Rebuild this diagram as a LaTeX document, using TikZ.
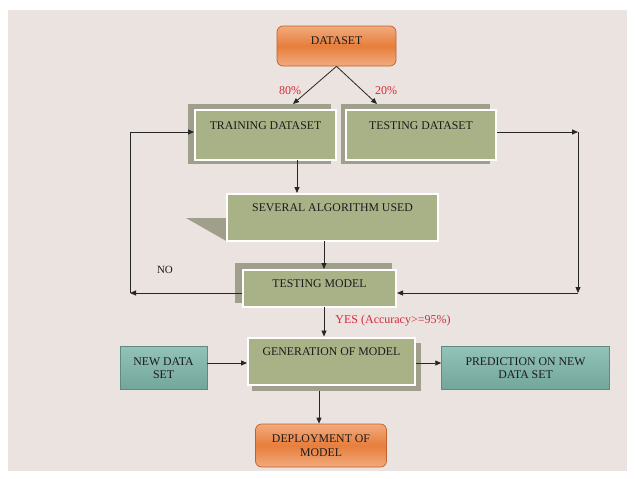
\documentclass[tikz,border=0pt]{standalone}
\usepackage{fontspec}
\setmainfont{Liberation Serif}
\usetikzlibrary{calc,arrows.meta}
\definecolor{bgc}{HTML}{EAE3E0}
\definecolor{boxgreen}{HTML}{A9B287}
\definecolor{shadowc}{HTML}{A09F8C}
\definecolor{tealtop}{HTML}{92C2B8}
\definecolor{tealbot}{HTML}{73A69B}
\definecolor{tealedge}{HTML}{5E8A80}
\definecolor{orgmid}{HTML}{E77E3C}
\definecolor{orgedge}{HTML}{F2AA7E}
\definecolor{orgline}{HTML}{C0632A}
\definecolor{redtxt}{HTML}{D8283A}
\definecolor{txt}{HTML}{1A1A1A}
\tikzset{
  boxfont/.style={font=\fontsize{11.8}{13.5}\selectfont, text=txt},
  greenbox/.style={boxfont, fill=boxgreen, draw=white, line width=2pt, inner sep=0pt, align=center},
  shadowbox/.style={fill=shadowc, draw=none, inner sep=0pt},
  tealbox/.style={boxfont, top color=tealtop, bottom color=tealbot, draw=tealedge, line width=0.5pt, inner sep=0pt, align=center},
  orangebox/.style={boxfont, rounded corners=6pt, top color=orgedge, bottom color=orgedge, middle color=orgmid, draw=orgline, line width=0.7pt, inner sep=0pt, align=center},
  arr/.style={-{Triangle[length=6pt,width=5pt]}, line width=0.8pt, draw=black!85},
  plain/.style={line width=0.8pt, draw=black!85},
  redlbl/.style={font=\fontsize{12}{14}\selectfont, text=redtxt, inner sep=0pt},
  blklbl/.style={font=\fontsize{11}{13}\selectfont, text=txt, inner sep=0pt}
}
\begin{document}
\begin{tikzpicture}[x=1pt,y=-1pt]
\useasboundingbox (0,0) rectangle (635,479);
\fill[white] (0,0) rectangle (635,479);
\fill[bgc] (8,10) rectangle (627,471);

% shadows
\node[shadowbox, minimum width=143pt, minimum height=60pt] (trainsh) at (259.5,134) {};
\node[shadowbox, minimum width=149pt, minimum height=60pt] (testsh) at (415.5,134) {};
\fill[shadowc] (186,218) -- (228,218) -- (228,242) -- cycle;
\node[shadowbox, minimum width=157pt, minimum height=40pt] (tmsh) at (313.5,283) {};
\node[shadowbox, minimum width=169pt, minimum height=48pt] (gensh) at (336.5,367) {};

% main boxes
\node[orangebox, minimum width=119pt, minimum height=40pt, text height=18pt, text depth=22pt] (dataset) at (336.5,46) {DATASET};
\node[greenbox, minimum width=141pt, minimum height=50pt, text height=19pt, text depth=31pt] (train) at (265.5,135) {TRAINING DATASET};
\node[greenbox, minimum width=150pt, minimum height=50pt, text height=19pt, text depth=31pt] (testds) at (421,135) {TESTING DATASET};
\node[greenbox, minimum width=211pt, minimum height=47pt, text height=17pt, text depth=30pt] (several) at (332.5,217.5) {SEVERAL ALGORITHM USED};
\node[greenbox, minimum width=153pt, minimum height=37pt, text height=17pt, text depth=20pt] (testmodel) at (319.5,288.5) {TESTING MODEL};
\node[greenbox, minimum width=167pt, minimum height=47pt, text height=18pt, text depth=29pt] (gen) at (331.5,361) {GENERATION OF MODEL};
\node[tealbox, minimum width=87pt, minimum height=43pt] (newds) at (163.5,368) {NEW DATA\\SET};
\node[tealbox, minimum width=168pt, minimum height=43pt] (pred) at (525.5,368) {PREDICTION ON NEW\\DATA SET};
\node[orangebox, minimum width=131pt, minimum height=43pt] (deploy) at (321,445.5) {DEPLOYMENT OF\\MODEL};

% helper coordinates
\coordinate (a80) at (293,104);
\coordinate (a20) at (377,104);
\coordinate (t1) at (297,160);
\coordinate (s1) at (324,241);
\coordinate (L1) at (130,293);
\coordinate (L2) at (130,132);
\coordinate (R1) at (578,132);
\coordinate (R2) at (578,293);
\coordinate (m1) at (324,307);
\coordinate (h1) at (0,363);
\coordinate (g1) at (319,391);

% connectors
\draw[arr] (dataset.south) -- (a80);
\draw[arr] (dataset.south) -- (a20);
\draw[arr] (t1) -- (t1 |- several.north);
\draw[arr] (s1) -- (s1 |- testmodel.north);
\draw[arr] (L1 -| testmodel.west) -- (L1);
\draw[plain] (L1) -- (L2);
\draw[arr] (L2) -- (L2 -| train.west);
\draw[arr] (R1 -| testds.east) -- (R1);
\draw[arr] (R1) -- (R2);
\draw[arr] (R2) -- (R2 -| testmodel.east);
\draw[arr] (m1) -- (m1 |- gen.north);
\draw[arr] (h1 -| newds.east) -- (h1 -| gen.west);
\draw[arr] (h1 -| gen.east) -- (h1 -| pred.west);
\draw[arr] (g1) -- (g1 |- deploy.north);

% labels
\node[redlbl] (l80) at (290,91) {80\%};
\node[redlbl] (l20) at (386,91) {20\%};
\node[blklbl] (lno) at (165,270) {NO};
\node[redlbl] (lyes) at (393,321) {YES (Accuracy>=95\%)};
\end{tikzpicture}
\end{document}
